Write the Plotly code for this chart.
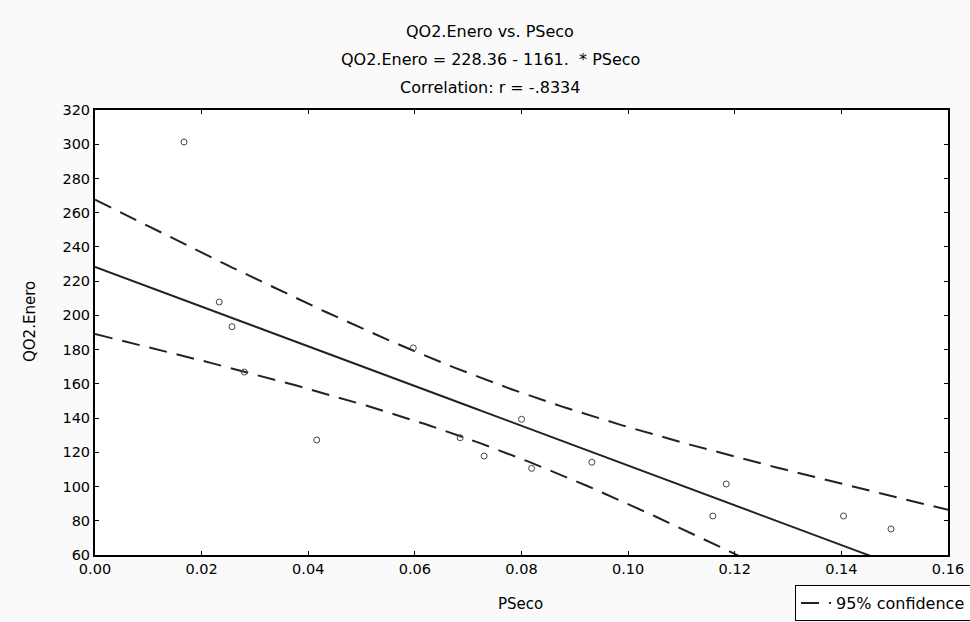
import numpy as np
import plotly.graph_objects as go

# Data
pseco = [0.0167, 0.0233, 0.0257, 0.0280, 0.0416, 0.0597, 0.0685, 0.0730,
         0.0800, 0.0819, 0.0932, 0.1184, 0.1159, 0.1404, 0.1493]
qo2_enero = [301.3, 207.8, 193.4, 166.9, 127.2, 181.0, 128.5, 117.8,
             139.3, 110.6, 114.2, 101.5, 82.8, 82.8, 75.2]

INTERCEPT = 228.36
SLOPE = -1161.0
T_CRIT = 2.160  # t(0.975, n-2=13)

title_lines = ["QO2.Enero vs. PSeco",
               "QO2.Enero = 228.36 - 1161.  * PSeco",
               "Correlation: r = -.8334"]
x_ticks = [0.00, 0.02, 0.04, 0.06, 0.08, 0.10, 0.12, 0.14, 0.16]
x_tick_labels = ["0.00", "0.02", "0.04", "0.06", "0.08", "0.10", "0.12", "0.14", "0.16"]
y_ticks = list(range(60, 321, 20))

x = np.array(pseco)
y = np.array(qo2_enero)
n = len(x)
resid = y - (INTERCEPT + SLOPE * x)
s = np.sqrt(np.sum(resid ** 2) / (n - 2))
xbar = x.mean()
sxx = np.sum((x - xbar) ** 2)

xs = np.linspace(0.0, 0.16, 200)
fit = INTERCEPT + SLOPE * xs
half = T_CRIT * s * np.sqrt(1.0 / n + (xs - xbar) ** 2 / sxx)

font = "DejaVu Sans, Liberation Sans, Arial, sans-serif"
W, H = 970, 622
L, R, T, B = 95, 22, 110, 67
PW, PH = W - L - R, H - T - B

fig = go.Figure()
fig.add_trace(go.Scatter(x=xs, y=fit + half, mode="lines",
                         line=dict(color="#222222", width=2, dash="18px,10px"),
                         name="95% confidence", showlegend=True))
fig.add_trace(go.Scatter(x=xs, y=fit - half, mode="lines",
                         line=dict(color="#222222", width=2, dash="18px,10px"),
                         showlegend=False))
fig.add_trace(go.Scatter(x=xs, y=fit, mode="lines",
                         line=dict(color="#222222", width=2), showlegend=False))
fig.add_trace(go.Scatter(x=pseco, y=qo2_enero, mode="markers",
                         marker=dict(symbol="circle-open", size=6,
                                     color="#444444", line=dict(width=1)),
                         showlegend=False))

axis_common = dict(showline=True, linecolor="black", linewidth=2, mirror="ticks",
                   ticks="inside", ticklen=4, tickwidth=1, tickcolor="black",
                   showgrid=False, zeroline=False,
                   tickfont=dict(family=font, size=14.5, color="black"))

title_y_px = [32, 60, 88]
annotations = []
for txt, ypx in zip(title_lines, title_y_px):
    annotations.append(dict(text=txt, xref="paper", yref="paper",
                            x=(490 - L) / PW, y=1 + (T - ypx) / PH,
                            xanchor="center", yanchor="middle", showarrow=False,
                            font=dict(family=font, size=16, color="black")))
annotations.append(dict(text="PSeco", xref="paper", yref="paper",
                        x=(520 - L) / PW, y=-(604 - (H - B)) / PH,
                        xanchor="center", yanchor="middle", showarrow=False,
                        font=dict(family=font, size=15, color="black")))
annotations.append(dict(text="QO2.Enero", xref="paper", yref="paper", textangle=-90,
                        x=-(L - 30) / PW, y=(H - B - 322) / PH,
                        xanchor="center", yanchor="middle", showarrow=False,
                        font=dict(family=font, size=15, color="black")))

fig.update_layout(
    width=W, height=H,
    margin=dict(l=L, r=R, t=T, b=B, autoexpand=False),
    paper_bgcolor="#fafafa", plot_bgcolor="white",
    font=dict(family=font, size=13, color="black"),
    xaxis=dict(range=[0, 0.16], tickvals=x_ticks, ticktext=x_tick_labels, **axis_common),
    yaxis=dict(range=[60, 320], tickvals=y_ticks, **axis_common),
    legend=dict(x=(795 - L) / PW, y=-(585 - (H - B)) / PH,
                xanchor="left", yanchor="top", itemwidth=30,
                bordercolor="black", borderwidth=1, bgcolor="white",
                font=dict(family=font, size=16, color="black")),
    annotations=annotations,
)

fig.write_html("out.html", config={"displayModeBar": False},
               post_script="document.body.style.margin='0';document.body.style.overflow='hidden';")
